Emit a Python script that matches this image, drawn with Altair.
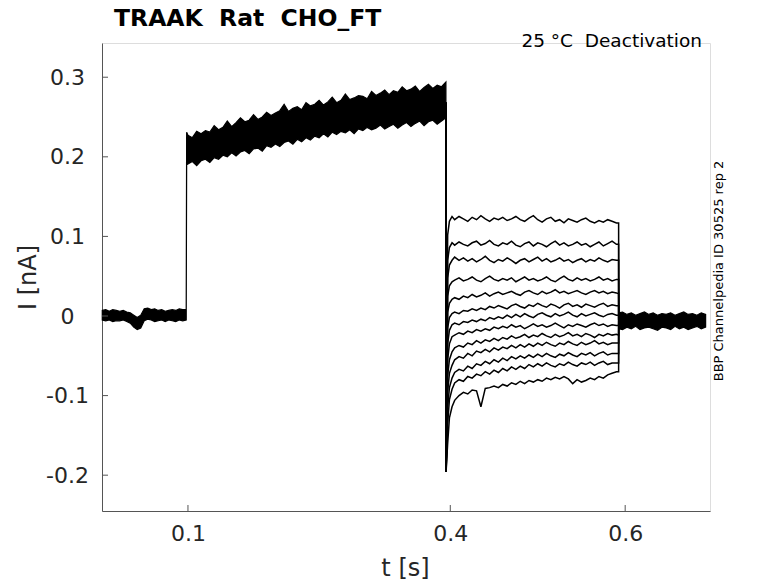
import altair as alt
import pandas as pd

TITLE = "TRAAK \u00a0Rat \u00a0CHO_FT"
NOTE = "25 °C \u00a0Deactivation"
SIDE = "BBP Channelpedia ID 30525 rep 2"
X_TITLE = "t [s]"
Y_TITLE = "I [nA]"
X_TICKS = [0.1, 0.4, 0.6]
Y_TICKS = [-0.2, -0.1, 0, 0.1, 0.2, 0.3]
X_DOMAIN = [0.0017, 0.697]
Y_DOMAIN = [-0.245, 0.343]

# holding baseline before the pre-pulse (envelope of all sweeps)
t_hold = [0.002, 0.006, 0.010, 0.014, 0.018, 0.022, 0.026, 0.030, 0.034, 0.038,
          0.042, 0.046, 0.050, 0.054, 0.058, 0.062, 0.066, 0.070, 0.074, 0.078,
          0.082, 0.086, 0.090, 0.094, 0.098]
hold_up = [0.007, 0.008, 0.006, 0.008, 0.007, 0.006, 0.007, 0.005, 0.004, 0.001,
           -0.002, 0.001, 0.009, 0.010, 0.008, 0.009, 0.007, 0.008, 0.006, 0.007,
           0.008, 0.007, 0.009, 0.008, 0.008]
hold_lo = [-0.005, -0.006, -0.005, -0.007, -0.006, -0.006, -0.005, -0.007, -0.009, -0.014,
           -0.017, -0.015, -0.006, -0.004, -0.005, -0.007, -0.006, -0.005, -0.007, -0.005,
           -0.006, -0.007, -0.005, -0.006, -0.005]

# pre-pulse (envelope of all sweeps)
t_pre = [0.0985,
         0.100, 0.105, 0.110, 0.115, 0.120, 0.125, 0.130, 0.135, 0.140, 0.145,
         0.150, 0.155, 0.160, 0.165, 0.170, 0.175, 0.180, 0.185, 0.190, 0.195,
         0.200, 0.205, 0.210, 0.215, 0.220, 0.225, 0.230, 0.235, 0.240, 0.245,
         0.250, 0.255, 0.260, 0.265, 0.270, 0.275, 0.280, 0.285, 0.290, 0.295,
         0.300, 0.305, 0.310, 0.315, 0.320, 0.325, 0.330, 0.335, 0.340, 0.345,
         0.350, 0.355, 0.360, 0.365, 0.370, 0.375, 0.380, 0.385, 0.390, 0.395]
pre_up = [0.231,
          0.227, 0.224, 0.232, 0.229, 0.233, 0.231, 0.239, 0.234, 0.237, 0.245,
          0.238, 0.243, 0.249, 0.244, 0.246, 0.253, 0.247, 0.250, 0.256, 0.252,
          0.255, 0.258, 0.266, 0.257, 0.261, 0.263, 0.259, 0.268, 0.264, 0.266,
          0.271, 0.265, 0.269, 0.275, 0.268, 0.271, 0.279, 0.272, 0.274, 0.277,
          0.276, 0.273, 0.282, 0.277, 0.280, 0.284, 0.278, 0.283, 0.281, 0.288,
          0.283, 0.285, 0.289, 0.282, 0.287, 0.291, 0.286, 0.290, 0.288, 0.294]
pre_lo = [0.190,
          0.191, 0.194, 0.189, 0.195, 0.197, 0.193, 0.199, 0.197, 0.202, 0.200,
          0.205, 0.201, 0.206, 0.208, 0.204, 0.210, 0.211, 0.207, 0.214, 0.212,
          0.216, 0.213, 0.218, 0.220, 0.216, 0.222, 0.219, 0.224, 0.221, 0.226,
          0.224, 0.229, 0.225, 0.231, 0.228, 0.232, 0.230, 0.234, 0.229, 0.235,
          0.233, 0.237, 0.234, 0.236, 0.240, 0.235, 0.238, 0.241, 0.236, 0.240,
          0.243, 0.238, 0.242, 0.245, 0.239, 0.244, 0.246, 0.241, 0.245, 0.249]

# after the test steps (envelope of all sweeps)
t_post = [0.5925, 0.597, 0.602, 0.607, 0.612, 0.617, 0.622, 0.627, 0.632, 0.637,
          0.642, 0.647, 0.652, 0.657, 0.662, 0.667, 0.672, 0.677, 0.682, 0.687, 0.692]
post_up = [0.004, 0.005, 0.002, 0.004, 0.001, 0.003, 0.005, 0.002, 0.004, 0.001,
           0.003, 0.002, 0.004, 0.001, 0.003, 0.005, 0.002, 0.003, 0.001, 0.004, 0.002]
post_lo = [-0.016, -0.017, -0.014, -0.016, -0.013, -0.017, -0.015, -0.014, -0.016, -0.018,
           -0.014, -0.015, -0.017, -0.013, -0.016, -0.014, -0.017, -0.015, -0.013, -0.016, -0.014]

# capacitive jump shared by every sweep, and return to holding
t_jump = [0.395, 0.3952]
v_jump = [0.268, -0.196]
t_end = [0.5926]
v_end = [-0.005]

# test-step sample times
t_step = [0.397, 0.399, 0.402,
          0.405, 0.410, 0.415, 0.420, 0.425, 0.430, 0.435, 0.440, 0.445, 0.450,
          0.455, 0.460, 0.465, 0.470, 0.475, 0.480, 0.485, 0.490, 0.495, 0.500,
          0.505, 0.510, 0.515, 0.520, 0.525, 0.530, 0.535, 0.540, 0.545, 0.550,
          0.555, 0.560, 0.565, 0.570, 0.575, 0.580, 0.585, 0.590,
          0.5925]

sweep_01 = [0.102, 0.119, 0.125,
            0.121, 0.125, 0.122, 0.119, 0.124, 0.121, 0.126, 0.122, 0.119, 0.123,
            0.121, 0.124, 0.120, 0.122, 0.125, 0.121, 0.119, 0.123, 0.126, 0.121,
            0.118, 0.122, 0.124, 0.119, 0.121, 0.117, 0.122, 0.120, 0.118, 0.121,
            0.123, 0.119, 0.117, 0.120, 0.118, 0.121, 0.119, 0.117,
            0.117]
sweep_02 = [0.070, 0.086, 0.092,
            0.089, 0.093, 0.090, 0.088, 0.092, 0.094, 0.089, 0.091, 0.095, 0.090,
            0.088, 0.092, 0.090, 0.094, 0.089, 0.087, 0.091, 0.093, 0.088, 0.092,
            0.090, 0.087, 0.091, 0.094, 0.089, 0.092, 0.088, 0.090, 0.093, 0.089,
            0.091, 0.087, 0.090, 0.093, 0.088, 0.091, 0.094, 0.090,
            0.090]
sweep_03 = [0.048, 0.064, 0.070,
            0.074, 0.070, 0.073, 0.069, 0.072, 0.068, 0.071, 0.075, 0.070, 0.067,
            0.071, 0.069, 0.073, 0.070, 0.066, 0.070, 0.072, 0.068, 0.071, 0.074,
            0.069, 0.072, 0.068, 0.070, 0.073, 0.069, 0.071, 0.067, 0.070, 0.072,
            0.068, 0.071, 0.069, 0.073, 0.070, 0.068, 0.071, 0.070,
            0.070]
sweep_04 = [0.025, 0.038, 0.043,
            0.045, 0.048, 0.044, 0.046, 0.049, 0.045, 0.043, 0.047, 0.050, 0.046,
            0.044, 0.047, 0.045, 0.048, 0.043, 0.046, 0.049, 0.045, 0.047, 0.044,
            0.046, 0.049, 0.045, 0.043, 0.047, 0.050, 0.046, 0.044, 0.048, 0.045,
            0.047, 0.044, 0.046, 0.049, 0.045, 0.047, 0.044, 0.046,
            0.046]
sweep_05 = [0.005, 0.016, 0.021,
            0.023, 0.021, 0.025, 0.023, 0.027, 0.024, 0.026, 0.029, 0.025, 0.028,
            0.030, 0.027, 0.029, 0.031, 0.028, 0.026, 0.030, 0.032, 0.029, 0.027,
            0.031, 0.028, 0.030, 0.033, 0.029, 0.031, 0.028, 0.030, 0.032, 0.029,
            0.027, 0.030, 0.032, 0.029, 0.031, 0.028, 0.030, 0.029,
            0.028]
sweep_06 = [-0.015, -0.002, 0.003,
            0.005, 0.003, 0.007, 0.006, 0.009, 0.007, 0.010, 0.008, 0.012, 0.010,
            0.013, 0.011, 0.009, 0.013, 0.015, 0.012, 0.010, 0.014, 0.012, 0.016,
            0.013, 0.011, 0.015, 0.013, 0.010, 0.014, 0.016, 0.012, 0.014, 0.011,
            0.015, 0.013, 0.011, 0.014, 0.016, 0.012, 0.014, 0.013,
            0.013]
sweep_07 = [-0.035, -0.018, -0.011,
            -0.009, -0.011, -0.007, -0.008, -0.005, -0.007, -0.004, -0.006, -0.002, -0.004,
            -0.001, -0.003, 0.001, -0.002, 0.002, -0.001, 0.003, 0.000, -0.002, 0.002,
            0.004, 0.001, -0.001, 0.003, 0.000, 0.002, 0.005, 0.001, -0.001, 0.003,
            0.000, 0.002, 0.004, 0.001, -0.001, 0.002, 0.003, 0.001,
            0.001]
sweep_08 = [-0.055, -0.035, -0.026,
            -0.024, -0.021, -0.023, -0.019, -0.021, -0.017, -0.019, -0.016, -0.018, -0.014,
            -0.016, -0.013, -0.015, -0.011, -0.014, -0.012, -0.016, -0.013, -0.010, -0.013,
            -0.011, -0.014, -0.012, -0.009, -0.012, -0.015, -0.011, -0.013, -0.010, -0.012,
            -0.014, -0.011, -0.009, -0.012, -0.010, -0.013, -0.011, -0.012,
            -0.012]
sweep_09 = [-0.075, -0.055, -0.045,
            -0.040, -0.037, -0.039, -0.034, -0.036, -0.031, -0.034, -0.030, -0.032, -0.028,
            -0.031, -0.027, -0.029, -0.025, -0.028, -0.026, -0.023, -0.027, -0.024, -0.026,
            -0.022, -0.025, -0.027, -0.023, -0.026, -0.024, -0.021, -0.025, -0.023, -0.026,
            -0.022, -0.024, -0.027, -0.023, -0.025, -0.022, -0.024, -0.023,
            -0.024]
sweep_10 = [-0.095, -0.072, -0.062,
            -0.055, -0.051, -0.053, -0.047, -0.050, -0.044, -0.046, -0.042, -0.045, -0.040,
            -0.043, -0.039, -0.041, -0.037, -0.040, -0.036, -0.039, -0.035, -0.038, -0.034,
            -0.037, -0.033, -0.036, -0.038, -0.034, -0.036, -0.032, -0.035, -0.037, -0.033,
            -0.036, -0.034, -0.031, -0.035, -0.033, -0.036, -0.034, -0.034,
            -0.034]
sweep_11 = [-0.115, -0.090, -0.078,
            -0.071, -0.067, -0.069, -0.063, -0.066, -0.060, -0.062, -0.057, -0.060, -0.055,
            -0.058, -0.053, -0.056, -0.051, -0.054, -0.050, -0.053, -0.049, -0.052, -0.048,
            -0.051, -0.047, -0.050, -0.052, -0.048, -0.050, -0.046, -0.049, -0.051, -0.047,
            -0.049, -0.046, -0.050, -0.047, -0.045, -0.049, -0.047, -0.047,
            -0.047]
sweep_12 = [-0.135, -0.105, -0.092,
            -0.084, -0.080, -0.082, -0.076, -0.078, -0.073, -0.075, -0.070, -0.073, -0.068,
            -0.071, -0.066, -0.069, -0.064, -0.067, -0.063, -0.066, -0.061, -0.064, -0.060,
            -0.063, -0.059, -0.062, -0.064, -0.060, -0.062, -0.058, -0.061, -0.063, -0.059,
            -0.061, -0.058, -0.062, -0.059, -0.057, -0.061, -0.059, -0.059,
            -0.059]
sweep_13 = [-0.160, -0.128, -0.114,
            -0.106, -0.100, -0.096, -0.098, -0.093, -0.094, -0.114, -0.091, -0.090, -0.088,
            -0.090, -0.086, -0.088, -0.084, -0.086, -0.082, -0.085, -0.081, -0.083, -0.080,
            -0.082, -0.078, -0.080, -0.077, -0.079, -0.076, -0.079, -0.085, -0.080, -0.083,
            -0.081, -0.078, -0.080, -0.076, -0.078, -0.074, -0.072, -0.070,
            -0.070]

SWEEPS = [sweep_01, sweep_02, sweep_03, sweep_04, sweep_05, sweep_06, sweep_07,
          sweep_08, sweep_09, sweep_10, sweep_11, sweep_12, sweep_13]

# ---------- tables ----------
band_rows = []
for seg, ts, ups, los in [("pre", t_hold + t_pre, hold_up + pre_up, hold_lo + pre_lo),
                          ("post", t_post, post_up, post_lo)]:
    for t, u, l in zip(ts, ups, los):
        band_rows.append({"seg": seg, "t": t, "up": u, "lo": l})
band_df = pd.DataFrame(band_rows)

trace_rows = []
for k, vals in enumerate(SWEEPS, 1):
    for t, v in zip(t_jump + t_step + t_end, v_jump + vals + v_end):
        trace_rows.append({"sweep": k, "t": t, "i": v})
trace_df = pd.DataFrame(trace_rows)

W, H = 608, 468
FONT = "DejaVu Sans"
AX = "#555555"
TXT = "#262626"

xscale = alt.Scale(domain=X_DOMAIN, nice=False, zero=False)
yscale = alt.Scale(domain=Y_DOMAIN, nice=False, zero=False)

x_axis = alt.Axis(values=X_TICKS, title=X_TITLE, labelExpr="'' + datum.value",
                  ticks=False, tickSize=0, grid=False, domainColor=AX, domainWidth=1,
                  labelFont=FONT, labelFontSize=22, labelColor=TXT, labelPadding=12.5,
                  labelBaseline="top", labelAlign="center", labelFlush=False, labelOverlap=False,
                  titleFont=FONT, titleFontSize=24, titleFontWeight="normal", titleColor=TXT,
                  titleX=303, titleY=57, titleAlign="center", titleBaseline="middle")
y_axis = alt.Axis(values=Y_TICKS, title=Y_TITLE, labelExpr="'' + datum.value",
                  ticks=False, tickSize=0, grid=False, domainColor=AX, domainWidth=1,
                  labelFont=FONT, labelFontSize=22, labelColor=TXT, labelPadding=35,
                  labelBaseline="middle", labelAlign="center", labelFlush=False, labelOverlap=False,
                  titleFont=FONT, titleFontSize=24, titleFontWeight="normal", titleColor=TXT,
                  titleX=-74, titleY=H / 2, titleAngle=270, titleAlign="center",
                  titleBaseline="middle")

bands = alt.Chart(band_df).mark_area(fill="black", stroke="black", strokeWidth=1.2,
                                     fillOpacity=1).encode(
    x=alt.X("t:Q", scale=xscale, axis=x_axis),
    y=alt.Y("up:Q", scale=yscale, axis=y_axis),
    y2="lo:Q",
    detail="seg:N",
)

traces = alt.Chart(trace_df).mark_line(color="black", strokeWidth=1.5).encode(
    x=alt.X("t:Q", scale=xscale, axis=x_axis),
    y=alt.Y("i:Q", scale=yscale, axis=y_axis),
    detail="sweep:N",
)

xticks = alt.Chart(pd.DataFrame({"v": X_TICKS})).mark_rule(color=AX, strokeWidth=1).encode(
    x=alt.X("v:Q", scale=xscale, axis=x_axis),
    y=alt.value(H), y2=alt.value(H - 6),
)
yticks = alt.Chart(pd.DataFrame({"v": Y_TICKS})).mark_rule(color=AX, strokeWidth=1).encode(
    y=alt.Y("v:Q", scale=yscale, axis=y_axis),
    x=alt.value(0), x2=alt.value(6),
)

title = alt.Chart(pd.DataFrame({"label": [TITLE]})).mark_text(
    font=FONT, fontSize=23.5, fontWeight="bold", color="black", align="left",
    baseline="alphabetic"
).encode(text="label:N", x=alt.value(12), y=alt.value(-17.3))

note = alt.Chart(pd.DataFrame({"label": [NOTE]})).mark_text(
    font=FONT, fontSize=18.5, color="black", align="right", baseline="alphabetic"
).encode(text="label:N", x=alt.value(600), y=alt.value(4))

side = alt.Chart(pd.DataFrame({"label": [SIDE]})).mark_text(
    font=FONT, fontSize=13, color="black", align="center", baseline="middle", angle=270
).encode(text="label:N", x=alt.value(617), y=alt.value(228))

chart = alt.layer(bands, traces, xticks, yticks, title, note, side).properties(
    width=W, height=H,
    padding={"left": 94, "top": 35, "right": 50, "bottom": 72},
    autosize=alt.AutoSizeParams(type="none"),
).configure_view(stroke=None).configure(background="white")

chart.save("out.html", embed_options={"renderer": "svg", "actions": False})
